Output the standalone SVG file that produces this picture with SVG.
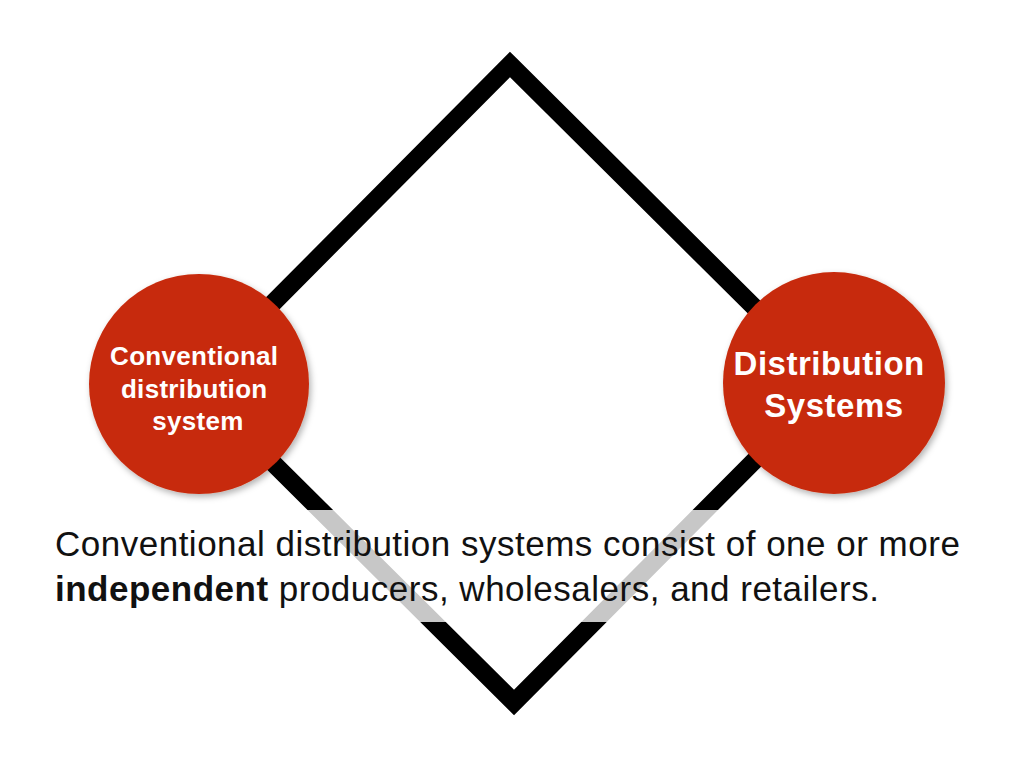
<svg xmlns="http://www.w3.org/2000/svg" width="1024" height="768" viewBox="0 0 1024 768">
  <defs>
    <filter id="shadow" x="-20%" y="-20%" width="140%" height="140%">
      <feDropShadow dx="2" dy="3" stdDeviation="3" flood-color="#000" flood-opacity="0.3"/>
    </filter>
  </defs>
  <style>
    .circle { fill: #C72A0A; filter: url(#shadow); }
    .ctext { font-family: "Liberation Sans", Arial, Helvetica, sans-serif; font-weight: bold; fill: #ffffff; text-anchor: middle; }
    .body { font-family: "Liberation Sans", Arial, Helvetica, sans-serif; font-size: 35px; fill: #111111; letter-spacing: 0.5px; }
  </style>
  <rect width="1024" height="768" fill="#ffffff"/>
  <g id="connectors">
    <polygon points="510,64.5 831,383.5 514,702.5 193,383.5" fill="none" stroke="#000000" stroke-width="18" stroke-linejoin="miter"/>
  </g>
  <g id="node-conventional">
    <circle class="circle" cx="199" cy="384" r="110"/>
    <text class="ctext" font-size="26" letter-spacing="0.3">
      <tspan x="198" y="365">Conventional</tspan>
      <tspan x="198" y="398">distribution</tspan>
      <tspan x="198" y="430">system</tspan>
    </text>
  </g>
  <g id="node-distribution">
    <circle class="circle" cx="834" cy="383" r="111"/>
    <text class="ctext" font-size="33" letter-spacing="0.5">
      <tspan x="834" y="375">Distribution</tspan>
      <tspan x="834" y="417">Systems</tspan>
    </text>
  </g>
  <g id="caption">
    <rect x="40" y="510" width="935" height="112" fill="#ffffff" fill-opacity="0.78"/>
    <text class="body">
      <tspan x="55" y="556">Conventional distribution systems consist of one or more</tspan>
      <tspan x="55" y="601"><tspan font-weight="bold">independent</tspan> producers, wholesalers, and retailers.</tspan>
    </text>
  </g>
</svg>
